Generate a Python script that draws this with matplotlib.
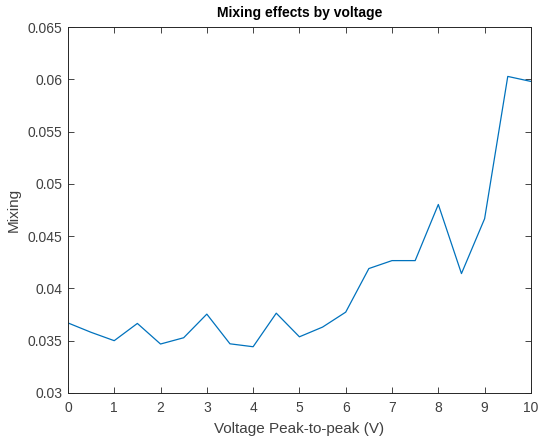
import matplotlib
matplotlib.use("Agg")
import matplotlib.pyplot as plt

voltage = [0, 0.5, 1, 1.5, 2, 2.5, 3, 3.5, 4, 4.5, 5, 5.5, 6, 6.5, 7, 7.5, 8, 8.5, 9, 9.5, 10]
mixing = [0.0367, 0.0358, 0.0350, 0.03665, 0.03468, 0.03528, 0.03754, 0.03470, 0.03442, 0.03763,
          0.03537, 0.03630, 0.03773, 0.04190, 0.04266, 0.04266, 0.04803, 0.04142, 0.04667, 0.06028, 0.0598]
xticks = list(range(0, 11))
yticks = [0.03, 0.035, 0.04, 0.045, 0.05, 0.055, 0.06, 0.065]
ytick_labels = ["0.03", "0.035", "0.04", "0.045", "0.05", "0.055", "0.06", "0.065"]

plt.rcParams['font.family'] = ['Liberation Sans', 'DejaVu Sans']
fig = plt.figure(figsize=(5.39, 4.44), dpi=100)
ax = fig.add_axes([0.126, 0.115, 0.859, 0.824])
ax.plot(voltage, mixing, color='#0072BD', linewidth=0.9)
ax.set_xlim(0, 10)
ax.set_ylim(0.03, 0.065)
ax.set_xticks(xticks)
ax.set_yticks(yticks)
ax.set_yticklabels(ytick_labels)
ax.tick_params(direction='in', top=True, right=True, length=4, width=0.6,
               labelsize=10, colors='#262626', labelcolor='#404040')
ax.tick_params(axis='x', pad=6)
ax.tick_params(axis='y', pad=4)
for s in ax.spines.values():
    s.set_color('#262626')
    s.set_linewidth(0.7)
ax.set_xlabel('Voltage Peak-to-peak (V)', fontsize=11, color='#404040', labelpad=5)
ax.set_ylabel('Mixing', fontsize=11, color='#404040', labelpad=5)
ax.set_title('Mixing effects by voltage', fontsize=10, fontweight='bold', color='black', pad=7)
fig.savefig('out.png', dpi=100)
